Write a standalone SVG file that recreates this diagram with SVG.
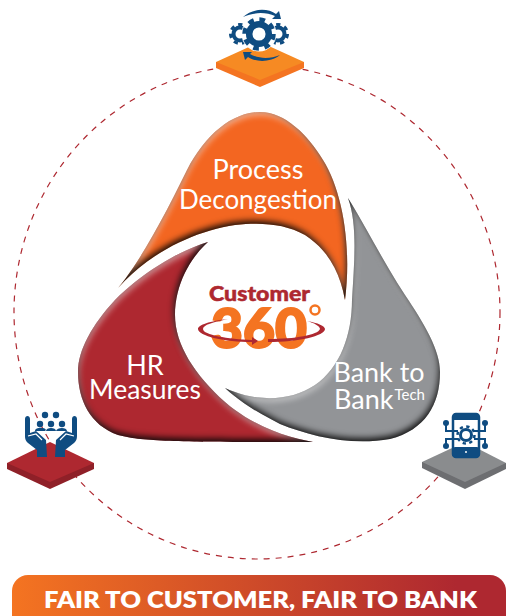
<svg xmlns="http://www.w3.org/2000/svg" width="506" height="616" viewBox="0 0 506 616">
<defs>
<linearGradient id="bar" x1="0" x2="1" y1="0" y2="0"><stop offset="0" stop-color="#f47421"/><stop offset="0.9" stop-color="#ae2830"/><stop offset="1" stop-color="#ae2830"/></linearGradient>
<filter id="bevel" x="-5%" y="-5%" width="110%" height="110%" color-interpolation-filters="sRGB">
<feGaussianBlur in="SourceAlpha" stdDeviation="3" result="b"/>
<feOffset in="b" dx="-1" dy="-3.500" result="o1"/>
<feComposite in="SourceAlpha" in2="o1" operator="out" result="m1"/>
<feFlood flood-color="#000" flood-opacity="0.9"/><feComposite in2="m1" operator="in" result="dark"/>
<feOffset in="b" dx="1" dy="3" result="o2"/>
<feComposite in="SourceAlpha" in2="o2" operator="out" result="m2"/>
<feFlood flood-color="#fff" flood-opacity="0.55"/><feComposite in2="m2" operator="in" result="light"/>
<feMerge><feMergeNode in="SourceGraphic"/><feMergeNode in="light"/><feMergeNode in="dark"/></feMerge>
</filter>
<style>
.lbl{font-family:"Lato","Liberation Sans",sans-serif;fill:#fff;font-size:27px;text-anchor:middle}
.ic{fill:#0f4c81}
.icl{fill:none;stroke:#0f4c81}
</style>
</defs>
<g id="connectors"><ellipse cx="257" cy="312" rx="243" ry="247" fill="none" stroke="#ae2830" stroke-width="1.200" stroke-dasharray="6 6"/></g>

<g id="node-process">
<path filter="url(#bevel)" fill="#f36621" d="M118,288 C140,262 165,215 187,170 C205,135 232,112 260,112 C285,112 308,135 323,160 C342,190 352,245 345,300 C340,272 328,250 305,235 C285,224 262,222 235,225 C195,231 150,252 118,288Z"/>
<text class="lbl" x="258" y="179" textLength="91" lengthAdjust="spacingAndGlyphs">Process</text><text class="lbl" x="258" y="209" textLength="158" lengthAdjust="spacingAndGlyphs">Decongestion</text>
</g>
<g id="node-hr">
<path filter="url(#bevel)" fill="#ae2830" d="M208,242 C175,252 140,275 115,300 C92,325 78,350 78,372 C78,400 90,425 118,435 C145,442 180,442 313,442 C290,438 255,428 225,402 C195,375 175,345 175,315 C175,285 190,258 208,242Z"/>
<text class="lbl" x="145" y="375">HR</text><text class="lbl" x="145" y="399" textLength="112" lengthAdjust="spacingAndGlyphs">Measures</text>
</g>
<g id="node-bank">
<path filter="url(#bevel)" fill="#929497" d="M348,198 C365,225 385,265 405,295 C425,325 440,350 440,372 C440,405 425,430 390,439 C350,446 310,436 280,424 C260,414 240,402 225,388 C255,402 290,402 315,385 C340,368 352,335 352,300 C354,265 358,225 348,198Z"/>
<text class="lbl" x="379" y="382" textLength="91" lengthAdjust="spacingAndGlyphs">Bank to</text><text class="lbl" x="334" y="409" style="text-anchor:start">Bank<tspan font-size="15" dy="-9" dx="1">Tech</tspan></text>
</g>

<g id="node-center">
<text x="259.500" y="301" text-anchor="middle" font-family="Lato,'Liberation Sans',sans-serif" font-weight="900" font-size="21" fill="#ae2830" stroke="#ae2830" stroke-width="0.500" textLength="101" lengthAdjust="spacingAndGlyphs">Customer</text>
<text x="259" y="348" text-anchor="middle" font-family="Lato,'Liberation Sans',sans-serif" font-weight="900" font-size="55" fill="#f47421" stroke="#f47421" stroke-width="2" textLength="96" lengthAdjust="spacingAndGlyphs">360</text>
<circle cx="315" cy="310" r="4.500" fill="none" stroke="#f47421" stroke-width="2.500"/>
<path fill="#ae2830" d="M228,319 C210,321 198,325 198,329 C198,336 225,342 252,342 L252,345 L258,341 L252,337 L252,340 C228,339 203,335 203,329 C203,325 213,322 228,319Z"/>
<path fill="#ae2830" d="M268,339 C295,339 318,335 320,329 C320,326 314,323 307,321 C318,323 325,326 325,329 C325,336 298,342 268,342Z"/>
</g>

<g id="node-top">
<path fill="#f47421" d="M216,62 L216,68 L260,87 L304,68 L304,62Z"/>
<path fill="#f68a23" d="M216,62 L260,42 L304,62 L260,80Z"/>
<circle cx="240" cy="34" r="6.500" fill="none" stroke="#0f4c81" stroke-width="4"/><circle cx="240" cy="34" r="9.500" fill="none" stroke="#0f4c81" stroke-width="3" stroke-dasharray="4.260 4.260"/>
<circle cx="278" cy="34" r="6.500" fill="none" stroke="#0f4c81" stroke-width="4"/><circle cx="278" cy="34" r="9.500" fill="none" stroke="#0f4c81" stroke-width="3" stroke-dasharray="4.260 4.260"/>
<circle cx="259" cy="34" r="17.500" fill="#fff"/>
<circle cx="259" cy="34" r="9.800" fill="none" stroke="#0f4c81" stroke-width="6.500"/>
<circle cx="259" cy="34" r="14.500" fill="none" stroke="#0f4c81" stroke-width="4.500" stroke-dasharray="5.690 5.690"/>
<path class="ic" d="M243,17 C253,8 268,8 276,14 L279,11 L281,19 L272,19 L275,16 C266,12 254,12 243,17Z"/>
<path class="ic" d="M280,55 C270,63 255,62 248,57 L245,60 L243,52 L252,52 L250,54 C259,59 270,59 280,55Z"/>
</g>

<g id="node-hr-icon">
<path fill="#8f2028" d="M7,463 L7,469 L50,489 L94,469 L94,463Z"/>
<path fill="#ae2830" d="M7,463 L50,442 L94,463 L50,482Z"/>
<path class="ic" d="M25,419 C25,415 30,415 30,419 L30,433 L36,431 L46,440 L47,457 L37,457 L37,450 L28,443 C25,440 25,438 25,435Z"/>
<path class="ic" d="M77,419 C77,415 72,415 72,419 L72,433 L66,431 L56,440 L55,457 L65,457 L65,450 L74,443 C77,440 77,438 77,435Z"/>
<path fill="none" stroke="#fff" stroke-width="1.200" d="M28,436 L36,434 L42,440 M74,436 L66,434 L60,440"/>
<circle class="ic" cx="45" cy="415" r="3.200"/><circle class="ic" cx="56" cy="415" r="3.200"/>
<circle class="ic" cx="40" cy="424" r="3.200"/><circle class="ic" cx="51" cy="424" r="3.200"/><circle class="ic" cx="62" cy="424" r="3.200"/>
<path class="ic" d="M35,431 C35,427 45,427 46,430 L45,431Z M46,431 C46,427 56,427 56,431Z M56,431 C57,427 67,427 67,431Z"/>
</g>

<g id="node-bank-icon">
<path fill="#6d6e71" d="M422,462 L422,468 L465,489 L506,469 L506,463Z"/>
<path fill="#8a8c8e" d="M422,462 L465,442 L506,463 L465,482Z"/>
<rect x="453" y="414" width="26" height="43" rx="3" fill="#fff" stroke="#0f4c81" stroke-width="2.500"/>
<rect x="453" y="414" width="26" height="6" class="ic"/><rect x="453" y="447" width="26" height="10" rx="2" class="ic"/>
<circle cx="466" cy="452" r="1" fill="#fff"/>
<path class="icl" stroke-width="2" d="M446,423 L446,431 L458,431 M485,423 L485,431 L474,431 M446,446 L446,439 L458,439 M485,446 L485,439 L474,439"/>
<circle class="ic" cx="446" cy="423" r="3"/><circle class="ic" cx="485" cy="423" r="3"/><circle class="ic" cx="446" cy="446" r="3"/><circle class="ic" cx="485" cy="446" r="3"/>
<circle cx="466" cy="435" r="5.500" fill="#fff" stroke="#0f4c81" stroke-width="3"/>
<circle cx="466" cy="435" r="8.500" fill="none" stroke="#0f4c81" stroke-width="2.500" stroke-dasharray="3.300 3.370"/>
</g>

<g id="banner">
<rect x="12" y="575" width="494" height="60" rx="16" fill="url(#bar)"/>
<text x="260.500" y="608" text-anchor="middle" font-family="Lato,'Liberation Sans',sans-serif" font-weight="800" font-size="22.500" fill="#fff" textLength="433" lengthAdjust="spacingAndGlyphs">FAIR TO CUSTOMER, FAIR TO BANK</text>
</g>
</svg>
